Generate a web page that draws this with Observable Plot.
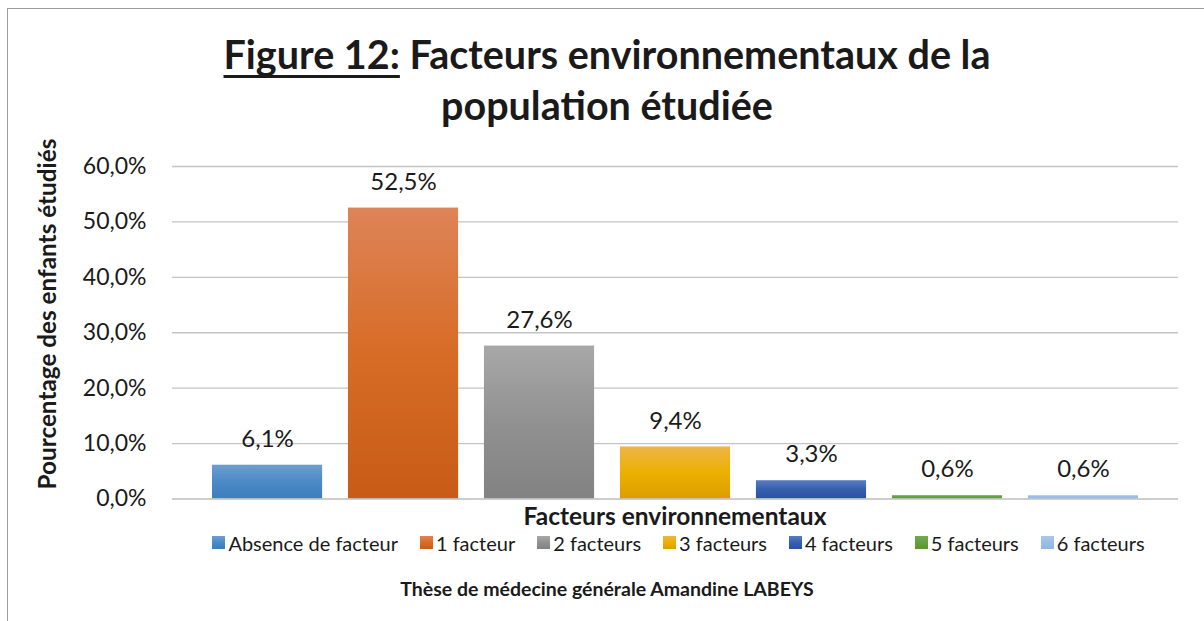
<!DOCTYPE html>
<html>
<head>
<meta charset="utf-8">
<script src="https://cdn.jsdelivr.net/npm/d3@7"></script>
<script src="https://cdn.jsdelivr.net/npm/@observablehq/plot@0.6"></script>
<style>
  html, body { margin: 0; padding: 0; background: #fff; }
  #wrap { position: relative; width: 1204px; height: 621px; overflow: hidden; background: #fff; font-family: Lato, "Open Sans", sans-serif; color: #1a1a1a; }
  #frame { position: absolute; left: 7px; top: 8px; width: 1400px; height: 800px; border: 1px solid #9c9c9c; box-sizing: border-box; }
  #chart { position: absolute; left: 0; top: 0; }
  #title { position: absolute; left: 7px; top: 28px; width: 1200px; text-align: center; font-weight: bold; font-size: 39.5px; line-height: 51px; }
  #title u { text-decoration-thickness: 3px; text-underline-offset: 6px; text-decoration-skip-ink: none; }
  #ylabel { position: absolute; left: 46px; top: 313.5px; transform: translate(-50%, -50%) rotate(-90deg); white-space: nowrap; font-weight: bold; font-size: 24.3px; line-height: 29px; }
  #xtitle { position: absolute; left: 172px; width: 1006px; top: 502.5px; text-align: center; font-weight: bold; font-size: 24.5px; line-height: 25px; }
  #legend { position: absolute; left: 0; width: 1357px; top: 532.5px; display: flex; justify-content: center; gap: 22px; font-size: 20px; line-height: 20px; }
  #legend .item { display: flex; align-items: center; white-space: nowrap; }
  #legend .sw { width: 13px; height: 13px; margin-right: 3px; display: inline-block; }
  #caption { position: absolute; left: 7px; width: 1200px; top: 577.5px; text-align: center; font-weight: bold; font-size: 19.5px; line-height: 22px; }
</style>
</head>
<body>
<div id="wrap">
  <div id="frame"></div>
  <div id="chart"></div>
  <div id="title"><u>Figure 12:</u> Facteurs environnementaux de la<br>population étudiée</div>
  <div id="ylabel"></div>
  <div id="xtitle"></div>
  <div id="legend"></div>
  <div id="caption"></div>
</div>
<script>
const categories = ["Absence de facteur", "1 facteur", "2 facteurs", "3 facteurs", "4 facteurs", "5 facteurs", "6 facteurs"];
const values = [6.1, 52.5, 27.6, 9.4, 3.3, 0.6, 0.6];
const yTicks = [0, 10, 20, 30, 40, 50, 60];
const gradTop = ["#6e9ed0", "#de8458", "#a8a8a8", "#ecb648", "#5a7dc0", "#73aa50", "#aac8eb"];
const gradMid = ["#4b8ac6", "#d76c26", "#919191", "#ecb000", "#375fae", "#64a041", "#9bbee6"];
const gradBot = ["#3e7dbe", "#c85c16", "#828282", "#dc9e00", "#2a52a4", "#5a9638", "#91b6e1"];
const yLabel = "Pourcentage des enfants étudiés";
const xLabel = "Facteurs environnementaux";
const captionText = "Thèse de médecine générale Amandine LABEYS";

const fmt = v => v.toFixed(1).replace(".", ",") + "%";
const data = categories.map((c, i) => ({cat: c, value: values[i]}));

const chart = Plot.plot({
  width: 1204,
  height: 621,
  marginTop: 166,
  marginBottom: 122.5,
  marginLeft: 172,
  marginRight: 26,
  style: {fontFamily: "Lato, 'Open Sans', sans-serif", background: "transparent", overflow: "visible", color: "#1a1a1a"},
  x: {domain: categories, paddingInner: 0.19, paddingOuter: 0.294, round: false, axis: null},
  y: {domain: [0, 60], axis: null},
  color: {domain: categories, range: categories.map((_, i) => `url(#g${i})`)},
  marks: [
    Plot.ruleY(yTicks.filter(t => t > 0), {y: d => d, stroke: "#c4c4c4", strokeWidth: 1.3}),
    Plot.barY(data, {x: "cat", y: "value", fill: "cat"}),
    Plot.ruleY([0], {stroke: "#bcbcbc", strokeWidth: 1.5}),
    Plot.text(data, {x: "cat", y: "value", text: d => fmt(d.value), dy: -26, fontSize: 24, fill: "#1a1a1a"}),
    Plot.axisY({ticks: yTicks, tickSize: 0, tickPadding: 26, fontSize: 23, tickFormat: fmt, label: null, fill: "#1a1a1a"})
  ]
});

const NS = "http://www.w3.org/2000/svg";
const defs = document.createElementNS(NS, "defs");
categories.forEach((c, i) => {
  const lg = document.createElementNS(NS, "linearGradient");
  lg.setAttribute("id", `g${i}`);
  lg.setAttribute("x1", "0"); lg.setAttribute("y1", "0");
  lg.setAttribute("x2", "0"); lg.setAttribute("y2", "1");
  [[0, gradTop[i]], [0.5, gradMid[i]], [1, gradBot[i]]].forEach(([o, col]) => {
    const s = document.createElementNS(NS, "stop");
    s.setAttribute("offset", o);
    s.setAttribute("stop-color", col);
    lg.appendChild(s);
  });
  defs.appendChild(lg);
});
chart.insertBefore(defs, chart.firstChild);
document.getElementById("chart").appendChild(chart);

document.getElementById("ylabel").textContent = yLabel;
document.getElementById("xtitle").textContent = xLabel;
document.getElementById("caption").textContent = captionText;
const legend = document.getElementById("legend");
categories.forEach((c, i) => {
  const it = document.createElement("div");
  it.className = "item";
  const sw = document.createElement("span");
  sw.className = "sw";
  sw.style.background = `linear-gradient(${gradTop[i]}, ${gradMid[i]}, ${gradBot[i]})`;
  it.appendChild(sw);
  it.appendChild(document.createTextNode(c));
  legend.appendChild(it);
});
</script>
</body>
</html>
